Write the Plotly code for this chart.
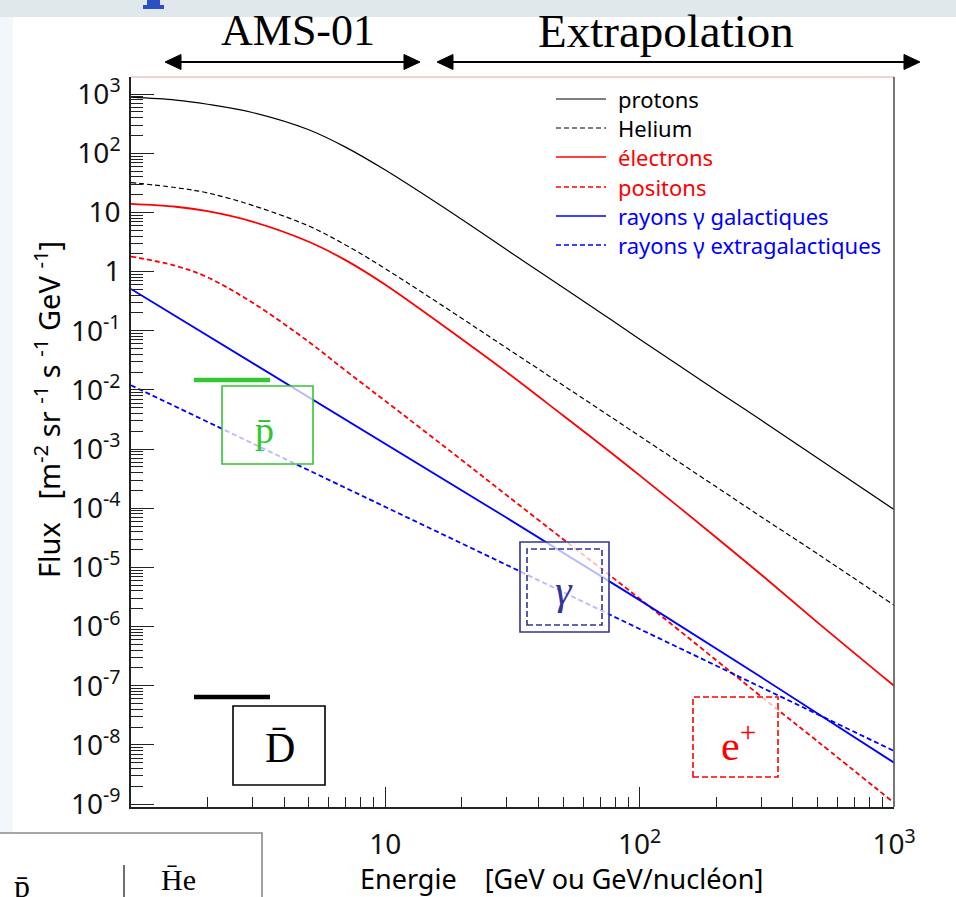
import plotly.graph_objects as go

# ---- data: cosmic-ray fluxes [m^-2 sr^-1 s^-1 GeV^-1] vs energy [GeV or GeV/nucleon]
energy = [1, 1.5, 2, 3, 5, 7, 10, 20, 30, 50, 70, 100, 200, 300, 500, 1000]
protons = [890, 795, 676, 490, 250, 126, 52, 7.6, 2.34, 0.54, 0.204, 0.072,
           9.8e-3, 3.1e-3, 7.1e-4, 9.5e-5]
helium = [32, 26.3, 21.4, 13.2, 5.9, 2.8, 1.12, 0.162, 0.051, 0.012, 4.6e-3,
          1.66e-3, 2.3e-4, 7.2e-5, 1.7e-5, 2.3e-6]
electrons = [14, 12.5, 10.5, 7.0, 3.2, 1.55, 0.60, 0.072, 0.020, 3.7e-3,
             1.21e-3, 3.6e-4, 3.2e-5, 7.6e-6, 1.18e-6, 1.0e-7]
positons = [1.8, 1.25, 0.8, 0.3, 0.065, 0.021, 6.5e-3, 6.5e-4, 1.66e-4,
            3.0e-5, 9.8e-6, 2.95e-6, 2.7e-7, 6.6e-8, 1.15e-8, 1.05e-9]

gamma_energy = [1, 3, 10, 30, 100, 300, 1000]
gamma_gal = [0.51, 0.029, 1.23e-3, 6.9e-5, 2.8e-6, 1.4e-7, 5.0e-9]
gamma_extra = [0.012, 1.26e-3, 1.05e-4, 1.1e-5, 9.1e-7, 9.5e-8, 7.9e-9]

series = [
    ("protons", energy, protons, "#000000", "solid", 1.2, "spline"),
    ("Helium", energy, helium, "#000000", "5px,3px", 1.2, "spline"),
    ("électrons", energy, electrons, "#ff0000", "solid", 1.8, "spline"),
    ("positons", energy, positons, "#ff0000", "5px,3px", 1.8, "spline"),
    ("rayons γ galactiques", gamma_energy, gamma_gal, "#0000ff", "solid", 1.8, "linear"),
    ("rayons γ extragalactiques", gamma_energy, gamma_extra, "#0000ff", "5px,3px", 1.8, "linear"),
]

x_ticks = [1, 10, 100, 1000]
x_ticktext = ["1", "10", "10<sup>2</sup>", "10<sup>3</sup>"]
y_exponents = list(range(-9, 4))

# ---- canvas geometry (pixels)
W_PX, H_PX = 956, 897
L, R, T, B = 131, 894, 77, 807


def px(x):
    return (x - L) / (R - L)


def py(y):
    return (B - y) / (B - T)


fig = go.Figure()
for name, xs, ys, color, dash, width, shape in series:
    fig.add_trace(go.Scatter(
        x=xs, y=ys, mode="lines", name=name, showlegend=False,
        line=dict(color=color, width=width, dash=dash, shape=shape, smoothing=1.0),
    ))

y_tickvals = [10.0 ** k for k in y_exponents]
y_ticktext = []
for k in y_exponents:
    if k == 0:
        y_ticktext.append("1")
    elif k == 1:
        y_ticktext.append("10")
    else:
        y_ticktext.append("10<sup>%d</sup>" % k)

minor_x = [m * 10.0 ** d for d in range(0, 3) for m in range(2, 10)]
minor_y = [m * 10.0 ** d for d in range(-10, 4) for m in range(2, 10)]

SANS = "Noto Sans"
SERIF = "Liberation Serif"

fig.update_xaxes(
    type="log", range=[0, 3], showgrid=False, zeroline=False,
    showline=True, linecolor="#222222", linewidth=1.6,
    tickmode="array", tickvals=x_ticks, ticktext=x_ticktext,
    ticks="inside", ticklen=20, tickwidth=1.2, tickcolor="#222222",
    ticklabelstandoff=12,
    tickfont=dict(family=SANS, size=28, color="#111111"),
    minor=dict(tickvals=minor_x, ticks="inside", ticklen=10, tickwidth=1.2,
               tickcolor="#222222", showgrid=False),
)
fig.update_yaxes(
    type="log", range=[-9.05, 3.29], showgrid=False, zeroline=False,
    showline=True, linecolor="#222222", linewidth=1.6,
    tickmode="array", tickvals=y_tickvals, ticktext=y_ticktext,
    ticks="inside", ticklen=23, tickwidth=1.2, tickcolor="#222222",
    ticklabelstandoff=3,
    tickfont=dict(family=SANS, size=28, color="#111111"),
    minor=dict(tickvals=minor_y, ticks="inside", ticklen=12, tickwidth=1.2,
               tickcolor="#222222", showgrid=False),
)

shapes = []
annotations = []


def rect(x0, y0, x1, y1, fill, line_color=None, width=0, dash="solid", layer="above"):
    shapes.append(dict(
        type="rect", xref="paper", yref="paper",
        x0=px(x0), x1=px(x1), y0=py(y1), y1=py(y0),
        fillcolor=fill, layer=layer,
        line=dict(color=line_color or "rgba(0,0,0,0)", width=width, dash=dash),
    ))


def hline(x0, x1, y, color, width, dash="solid"):
    shapes.append(dict(
        type="line", xref="paper", yref="paper",
        x0=px(x0), x1=px(x1), y0=py(y), y1=py(y),
        line=dict(color=color, width=width, dash=dash), layer="above",
    ))


def vline(x, y0, y1, color, width):
    shapes.append(dict(
        type="line", xref="paper", yref="paper",
        x0=px(x), x1=px(x), y0=py(y0), y1=py(y1),
        line=dict(color=color, width=width), layer="above",
    ))


def triangle(tip_x, base_x, y, half, color):
    path = "M %f,%f L %f,%f L %f,%f Z" % (
        px(tip_x), py(y), px(base_x), py(y - half), px(base_x), py(y + half))
    shapes.append(dict(type="path", xref="paper", yref="paper", path=path,
                       fillcolor=color, line=dict(color=color, width=1), layer="above"))


def text(x, y, s, size, color="#000000", family=SANS, angle=0, xanchor="center"):
    annotations.append(dict(
        xref="paper", yref="paper", x=px(x), y=py(y), text=s, showarrow=False,
        xanchor=xanchor, yanchor="middle", textangle=angle,
        font=dict(family=family, size=size, color=color),
    ))


# slide background strips around the chart
rect(0, -5, W_PX + 5, 17, "#e1e8ec", layer="below")
rect(-5, 17, 13, H_PX + 5, "#f1f7fa", layer="below")
rect(147, -5, 160, 8, "#2b4fc4", layer="below")
rect(143, 5, 164, 9, "#2b4fc4", layer="below")

# frame: top and right borders
hline(L, R, T, "#e6a8a8", 1.2)
vline(R, T, B, "#555555", 1.6)

# energy domains above the frame
text(298, 30, "AMS-01", 44, family=SERIF)
text(666, 31, "Extrapolation", 47, family=SERIF)
hline(172, 413, 62, "#000000", 2)
triangle(165, 181, 62, 7.5, "#000000")
triangle(420, 404, 62, 7.5, "#000000")
hline(444, 913, 62, "#000000", 2)
triangle(437, 453, 62, 7.5, "#000000")
triangle(920, 904, 62, 7.5, "#000000")

# legend
legend_rows = [(99, "protons"), (128, "Helium"), (157, "électrons"),
               (187, "positons"), (216, "rayons γ galactiques"),
               (245, "rayons γ extragalactiques")]
for (y, label), (name, xs, ys, color, dash, width, shape) in zip(legend_rows, series):
    hline(556, 606, y, color, 1.5 if color != "#000000" else 1.2, dash)
    text(616, y, label, 22, color=color, xanchor="left")

# antiparticle sensitivity marks
GREEN = "#33c633"
NAVY = "#333399"
hline(194, 270, 380, GREEN, 4.5)
rect(222, 386, 313, 464, "rgba(255,255,255,0.72)", GREEN, 1.6)
text(264, 430, "p\u0304", 38, color=GREEN, family=SERIF)

hline(194, 270, 697, "#000000", 4.5)
rect(233, 706, 325, 785, "rgba(255,255,255,0.9)", "#000000", 1.6)
text(280, 748, "D\u0304", 42, family=SERIF)

rect(520, 542, 609, 632, "rgba(255,255,255,0.72)", NAVY, 1.6)
rect(527, 549, 602, 625, "rgba(0,0,0,0)", NAVY, 1.6, dash="6px,3px")
text(564, 590, "<i>γ</i>", 42, color=NAVY, family=SERIF)

rect(693, 697, 778, 777, "rgba(255,255,255,0.72)", "#ff0000", 1.6, dash="6px,3px")
text(738, 742, "e<sup>+</sup>", 42, color="#ff0000", family=SERIF)

# axis titles
text(561, 878, "Energie    [GeV ou GeV/nucléon]", 27)
text(47, 410, "Flux   [m<sup>-2</sup> sr <sup>-1</sup> s <sup>-1</sup> GeV <sup>-1</sup>]",
     29, angle=-90)

# table fragment at lower left
rect(-5, 833, 262, H_PX + 5, "#ffffff", "#8a8a8a", 1.6)
vline(124, 865, H_PX + 2, "#333333", 1.4)
text(22, 886, "p\u0304", 32, family=SERIF)
text(178, 879, "H\u0304e", 30, family=SERIF)

fig.update_layout(
    width=W_PX, height=H_PX, autosize=False,
    margin=dict(l=L, r=W_PX - R, t=T, b=H_PX - B),
    paper_bgcolor="#ffffff", plot_bgcolor="#ffffff",
    shapes=shapes, annotations=annotations, showlegend=False,
)

fig.write_html("out.html")
